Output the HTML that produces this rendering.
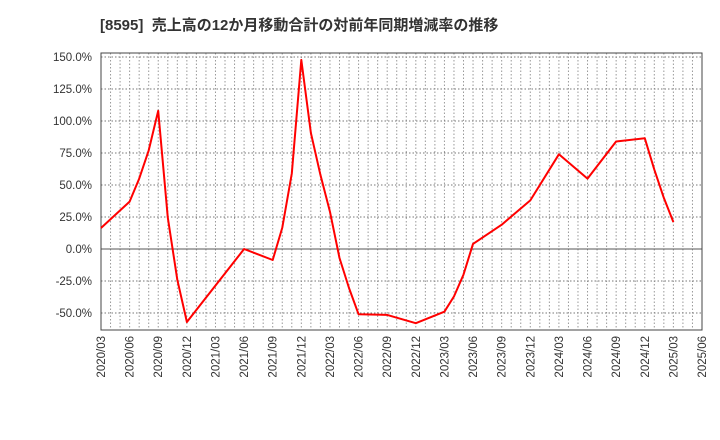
<!DOCTYPE html>
<html><head><meta charset="utf-8"><style>
body{margin:0;background:#fff;font-family:"Liberation Sans","Noto Sans CJK JP",sans-serif;}
#wrap{position:relative;width:720px;height:440px;}
#title{position:absolute;left:100px;top:14px;font-size:15px;font-weight:bold;color:#333;white-space:nowrap;}
</style></head><body>
<div id="wrap">
<div id="title">[8595]&nbsp;&nbsp;売上高の12か月移動合計の対前年同期増減率の推移</div>
<svg id="svg" width="720" height="440" style="position:absolute;left:0;top:0"></svg>
</div>
<script>
const pointMonths=["2020/03","2020/06","2020/07","2020/08","2020/09","2020/10","2020/11","2020/12","2021/06","2021/09","2021/10","2021/11","2021/12","2022/01","2022/02","2022/03","2022/04","2022/05","2022/06","2022/09","2022/12","2023/03","2023/04","2023/05","2023/06","2023/09","2023/12","2024/03","2024/06","2024/09","2024/12","2025/01","2025/02","2025/03"];
const values=[16.4,37,55,77,108,24.5,-24,-57,0,-8.6,16.7,59,147.7,90.6,58,29,-7,-30.5,-51,-51.5,-58,-49,-37,-20,4,19,38,74,55,84,86.5,62,40,21];
const yTicks=[150,125,100,75,50,25,0,-25,-50];
const xTickLabels=["2020/03","2020/06","2020/09","2020/12","2021/03","2021/06","2021/09","2021/12","2022/03","2022/06","2022/09","2022/12","2023/03","2023/06","2023/09","2023/12","2024/03","2024/06","2024/09","2024/12","2025/03","2025/06"];
const NS="http://www.w3.org/2000/svg";
const svg=document.getElementById('svg');
const L=101,R=702,T=53,B=330;
const startM=2020*12+2, endM=2025*12+5;
function mIdx(s){const p=s.split('/');return (+p[0])*12+(+p[1]-1);}
function xs(s){return L+(mIdx(s)-startM)*(R-L)/(endM-startM);}
function ys(v){return 249-v*1.28;}
function el(t,a){const e=document.createElementNS(NS,t);for(const k in a)e.setAttribute(k,a[k]);svg.appendChild(e);return e;}
// monthly vertical grid
for(let m=startM+1;m<endM;m++){
  const x=L+(m-startM)*(R-L)/(endM-startM);
  const g=el('line',{x1:x,x2:x,y1:T,y2:B,stroke:'#999','stroke-dasharray':'1.5,2','stroke-width':1});
  
  
}
yTicks.forEach(v=>{
  const y=ys(v);
  const g=el('line',{x1:L,x2:R,y1:y,y2:y,stroke:v===0?'#555':'#777','stroke-dasharray':v===0?'':'1.5,2','stroke-width':1});
  
  
  const t=el('text',{x:92,y:y+4,'text-anchor':'end','font-size':11.5,fill:'#333'});
  t.textContent=v.toFixed(1)+'%';
  
  
});
xTickLabels.forEach(s=>{
  const x=xs(s);
  const t=el('text',{x:0,y:0,'text-anchor':'end','font-size':11.5,fill:'#333',transform:`translate(${x+4},${B+6}) rotate(-90)`});
  t.textContent=s;
  
  
});
const frame=el('rect',{x:L,y:T,width:R-L,height:B-T,fill:'none',stroke:'#444','stroke-width':1});


const pts=pointMonths.map((s,i)=>xs(s).toFixed(1)+','+ys(values[i]).toFixed(1)).join(' ');
const line=el('polyline',{points:pts,fill:'none',stroke:'#f00','stroke-width':2,'stroke-linejoin':'round'});


</script>
</body></html>
